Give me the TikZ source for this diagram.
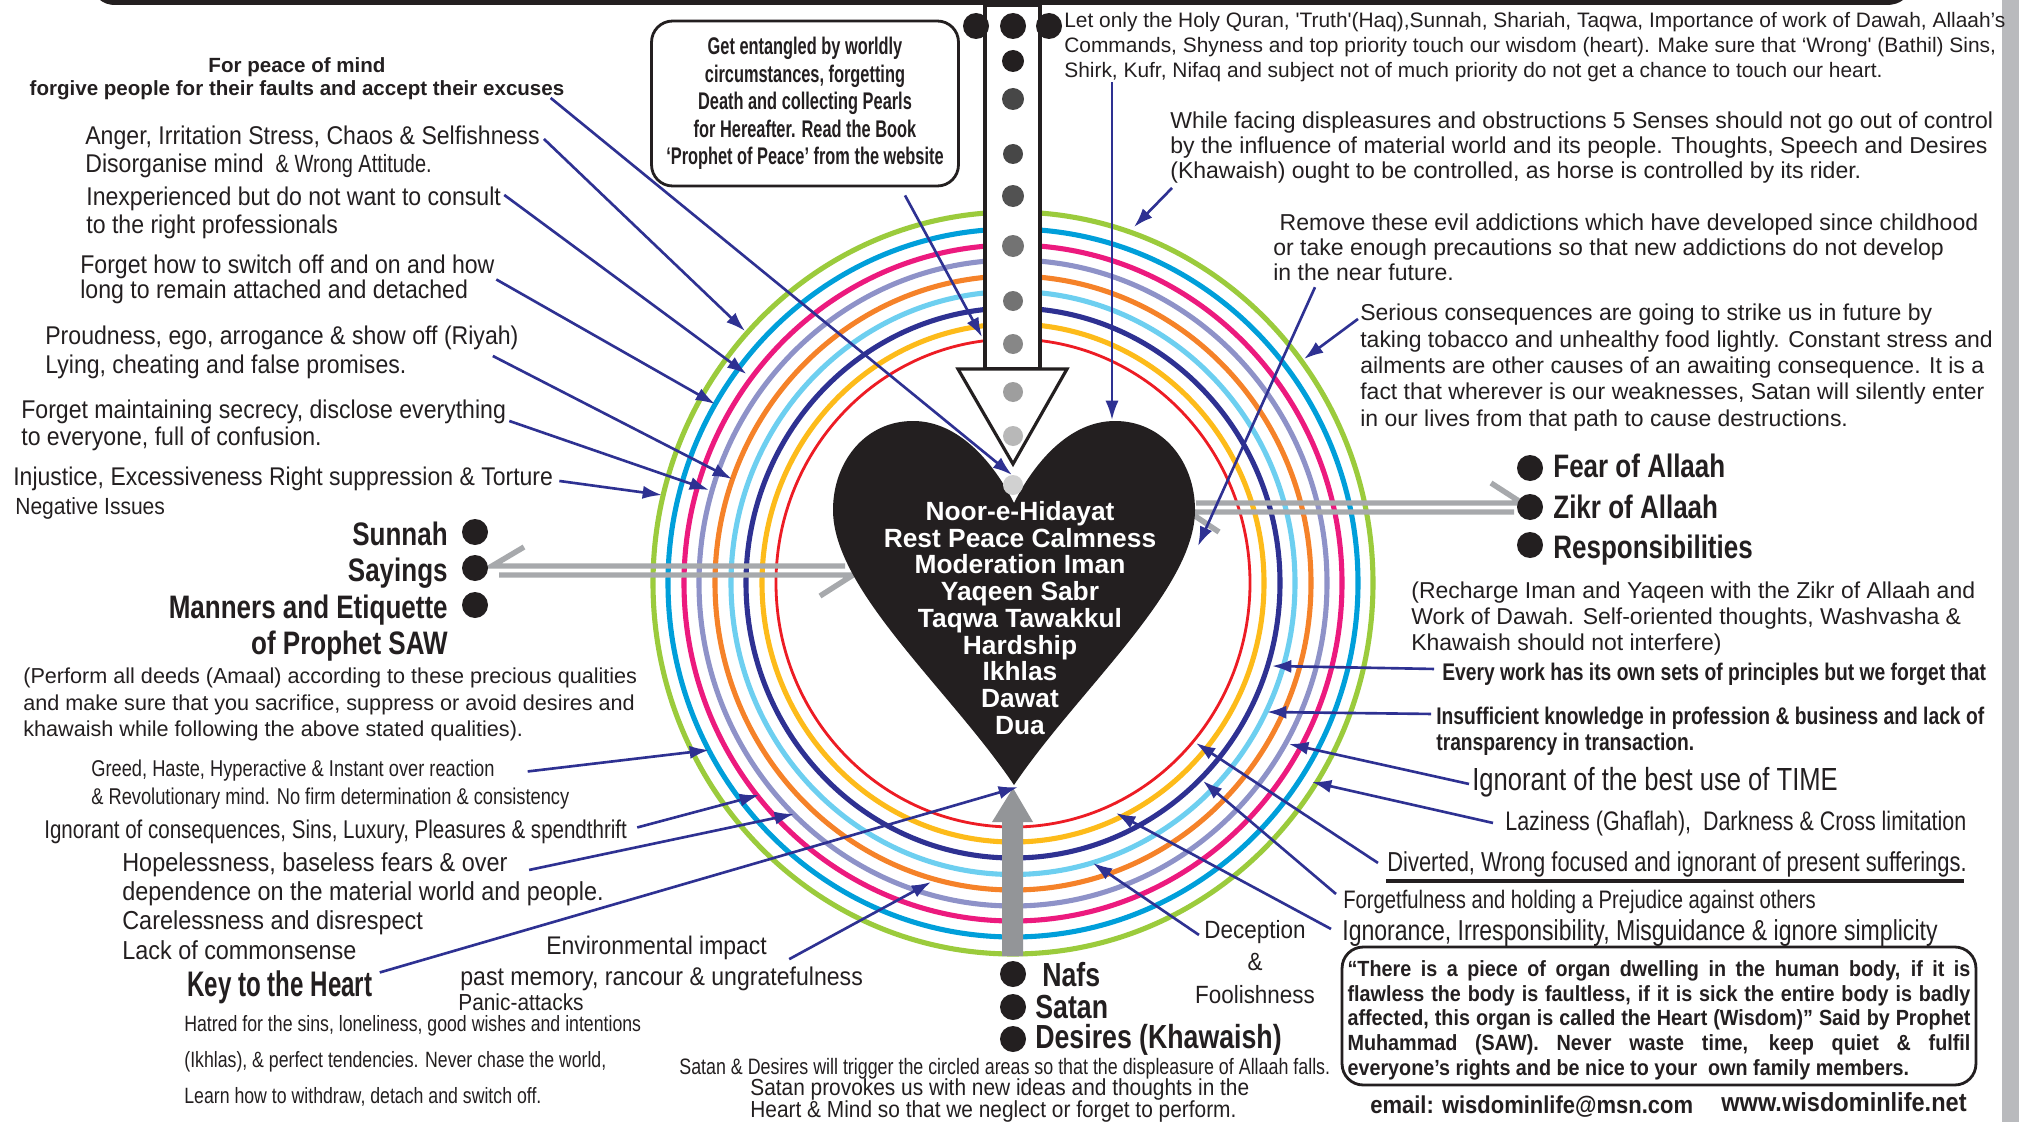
\documentclass[tikz,border=0pt]{standalone}
\usepackage{fontspec}
\setmainfont{Liberation Sans}
\newfontfamily\mdwfont[FakeStretch=0.9]{Liberation Sans}
\newfontfamily\nrwfont[FakeStretch=0.8]{Liberation Sans}
\newfontfamily\cndfont[FakeStretch=0.68]{Liberation Sans}
\usetikzlibrary{arrows.meta}
\definecolor{inkblack}{HTML}{231F20}
\definecolor{ringgreen}{HTML}{9BCB3C}
\definecolor{ringblue}{HTML}{009FDA}
\definecolor{ringpink}{HTML}{EC1A7E}
\definecolor{ringlav}{HTML}{8E92C8}
\definecolor{ringorange}{HTML}{F58229}
\definecolor{ringsky}{HTML}{6DCFF0}
\definecolor{ringnavy}{HTML}{2E3192}
\definecolor{ringyellow}{HTML}{FDBB1A}
\definecolor{ringred}{HTML}{ED1C24}
\definecolor{railgray}{HTML}{A7A9AC}
\definecolor{upgray}{HTML}{939598}
\tikzset{
lab/.style={anchor=west,align=left,inner sep=0pt,text=inkblack,yshift=-1.4pt},
txt/.style 2 args={lab,font=\fontsize{#1}{#2}\selectfont},
mdw/.style 2 args={lab,font=\mdwfont\fontsize{#1}{#2}\selectfont},
nrw/.style 2 args={lab,font=\nrwfont\fontsize{#1}{#2}\selectfont},
bld/.style 2 args={lab,font=\bfseries\fontsize{#1}{#2}\selectfont},
mbd/.style 2 args={lab,font=\mdwfont\bfseries\fontsize{#1}{#2}\selectfont},
nbd/.style 2 args={lab,font=\nrwfont\bfseries\fontsize{#1}{#2}\selectfont},
cbd/.style 2 args={lab,font=\cndfont\bfseries\fontsize{#1}{#2}\selectfont},
ring/.style={line width=2.9pt},
arr/.style={->,>={Latex[length=11pt,width=7.5pt]},line width=1.5pt,color=ringnavy},
rail/.style={line width=3.1pt,color=railgray,line join=miter},
}
\newcommand{\qline}[1]{\makebox[12.46cm][s]{#1}}
\begin{document}
\begin{tikzpicture}[x=0.02cm,y=-0.02cm]
\useasboundingbox (0,0) rectangle (2019,1122);
\fill[white] (0,0) rectangle (2019,1122);
\fill[railgray!80!white] (2002,0) rectangle (2019,1122);
\fill[inkblack] (100,0) .. controls (104,3) and (108,5) .. (116,5) -- (1886,5) .. controls (1894,5) and (1899,3) .. (1903,0) -- cycle;
% rings
\draw[ring,ringgreen] (1013,583) ellipse [x radius=360,y radius=371];
\draw[ring,ringblue] (1013,583) ellipse [x radius=345,y radius=354];
\draw[ring,ringpink] (1013,583) ellipse [x radius=329,y radius=338];
\draw[ring,ringlav] (1013,583) ellipse [x radius=314,y radius=323];
\draw[ring,ringorange] (1013,583) ellipse [x radius=298,y radius=307];
\draw[ring,ringsky] (1013,583) ellipse [x radius=282,y radius=291.5];
\draw[ring,ringnavy] (1013,583) ellipse [x radius=267,y radius=275];
\draw[ring,ringyellow] (1013,583) ellipse [x radius=251,y radius=259];
\draw[ringred,line width=1.6pt] (1013,583) ellipse [x radius=237,y radius=244];
% double rails
\coordinate (sunR) at (845,566);
\coordinate (sunL) at (492,566);
\coordinate (sunH) at (524,547);
\coordinate (manL) at (499,575);
\coordinate (manR) at (853,575);
\coordinate (manH) at (820,596);
\coordinate (zikL) at (1196,503);
\coordinate (zikR) at (1522,503);
\coordinate (zikH) at (1491,483);
\coordinate (fearR) at (1514,512);
\coordinate (fearL) at (1189,512);
\coordinate (fearH) at (1219,532);
\draw[rail] (sunR)--(sunL)--(sunH);
\draw[rail] (manL)--(manR)--(manH);
\draw[rail] (zikL)--(zikR)--(zikH);
\draw[rail] (fearR)--(fearL)--(fearH);
% heart and the arrow from above
\draw[inkblack,line width=1.8pt,fill=white] (985,5) rectangle (1040,369);
\draw[inkblack,line width=1.8pt,fill=white,line join=miter] (958,369)--(1067,369)--(1013,464)--cycle;
\fill[inkblack] (1014,503) .. controls (995,465) and (960,421) .. (913,421) .. controls (865,421) and (833,462) .. (833,510) .. controls (833,590) and (950,690) .. (1014,785) .. controls (1078,690) and (1195,590) .. (1195,510) .. controls (1195,462) and (1163,421) .. (1115,421) .. controls (1068,421) and (1033,465) .. (1014,503) -- cycle;
\fill[inkblack] (976,26) circle (13);
\fill[inkblack] (1013,26) circle (13);
\fill[inkblack] (1049,26) circle (13);
\fill[inkblack] (1013,61) circle (11);
\fill[black!72!white] (1013,99) circle (11);
\fill[black!72!white] (1013,154) circle (10);
\fill[black!68!white] (1013,196) circle (11);
\fill[black!55!white] (1013,246) circle (11);
\fill[black!55!white] (1013,301) circle (10);
\fill[black!47!white] (1013,344) circle (10);
\fill[black!38!white] (1013,392) circle (10);
\fill[black!28!white] (1013,436) circle (10);
\fill[black!18!white] (1013,485) circle (10);
\fill[upgray] (1002,956) -- (1002,822) -- (992,822) -- (1013,788) -- (1033,822) -- (1023,822) -- (1023,956) -- cycle;
\node[bld={15}{15.2},align=center,anchor=center,text=white] (heart) at (1020,615.5) {Noor-e-Hidayat\\Rest Peace Calmness\\Moderation Iman\\Yaqeen Sabr\\Taqwa Tawakkul\\Hardship\\Ikhlas\\Dawat\\Dua};
% left column
\node[bld={11.7}{13},align=center,anchor=center] (peace) at (297,76) {For peace of mind\\forgive people for their faults and accept their excuses};
\node[mdw={14.6}{15.7}] (anger) at (85,149.5) {Anger, Irritation Stress, Chaos \& Selfishness\\Disorganise mind {\nrwfont\fontsize{14.2}{14}\selectfont\ \& Wrong Attitude.}};
\node[mdw={14.6}{16}] (inexp) at (86,210) {Inexperienced but do not want to consult\\to the right professionals};
\node[mdw={14.6}{14.4}] (switch) at (80,277) {Forget how to switch off and on and how\\long to remain attached and detached};
\node[mdw={14.6}{16.6}] (proud) at (45,350) {Proudness, ego, arrogance \& show off (Riyah)\\Lying, cheating and false promises.};
\node[mdw={14.6}{15.2}] (secrecy) at (21,423) {Forget maintaining secrecy, disclose everything\\to everyone, full of confusion.};
\node[mdw={14.55}{15}] (injust) at (13,476) {Injustice, Excessiveness Right suppression \& Torture};
\node[mdw={13.3}{14}] (negative) at (15,506) {Negative Issues};
\node[nbd={18.5}{17},anchor=east] (sunnah) at (448,531.5) {Sunnah};
\node[nbd={18.5}{17},anchor=east] (sayings) at (448,571) {Sayings};
\node[nbd={18.5}{17},anchor=east] (manners) at (448,608) {Manners and Etiquette};
\node[nbd={18.5}{17},anchor=east] (ofsaw) at (448,644) {of Prophet SAW};
\fill[inkblack] (475,532) circle (13);
\fill[inkblack] (475,568) circle (13);
\fill[inkblack] (475,605) circle (13);
\node[txt={12.3}{15}] (perform) at (23,702) {(Perform all deeds (Amaal) according to these precious qualities\\and make sure that you sacrifice, suppress or avoid desires and\\khawaish while following the above stated qualities).};
\node[nrw={13}{15.7}] (greed) at (91,782) {Greed, Haste, Hyperactive \& Instant over reaction\\\& Revolutionary mind. No firm determination \& consistency};
\node[nrw={14.6}{15}] (conseq) at (44,829) {Ignorant of consequences, Sins, Luxury, Pleasures \& spendthrift};
\node[mdw={14.8}{16.7}] (hopeless) at (122,903.5) {Hopelessness, baseless fears \& over\\dependence on the material world and people.\\Carelessness and disrespect\\Lack of commonsense};
\node[cbd={20.2}{18}] (keyheart) at (187,985) {Key to the Heart};
\node[nrw={12.6}{20.5}] (hatred) at (184,1058) {Hatred for the sins, loneliness, good wishes and intentions\\(Ikhlas), \& perfect tendencies. Never chase the world,\\Learn how to withdraw, detach and switch off.};
\node[mdw={14.5}{15}] (environ) at (546,945) {Environmental impact};
\node[mdw={14.6}{15}] (memory) at (460,976) {past memory, rancour \& ungratefulness};
\node[mdw={13.2}{14}] (panic) at (458,999.5) {Panic-attacks};
% bottom
\fill[inkblack] (1013,974) circle (13);
\fill[inkblack] (1013,1007) circle (13);
\fill[inkblack] (1013,1039) circle (13);
\node[nbd={19}{17}] (nafs) at (1042,972.5) {Nafs};
\node[nbd={19}{17}] (satan) at (1035,1005) {Satan};
\node[nbd={19}{17}] (desires) at (1035,1037) {Desires (Khawaish)};
\node[mdw={14.2}{18.7},align=center,anchor=center] (decept) at (1255,959.5) {Deception\\\&\\Foolishness};
\node[nrw={12.7}{13}] (trigger) at (679,1066) {Satan \& Desires will trigger the circled areas so that the displeasure of Allaah falls.};
\node[mdw={13.2}{12.5}] (provoke) at (750,1098) {Satan provokes us with new ideas and thoughts in the\\Heart \& Mind so that we neglect or forget to perform.};
% box at the top
\node[draw=inkblack,line width=1.6pt,rounded corners=12pt,cbd={13.7}{15.6},align=center,anchor=center,minimum width=6.14cm,minimum height=3.3cm,yshift=1.4pt] (pearls) at (805,103.5) {Get entangled by worldly\\circumstances, forgetting\\Death and collecting Pearls\\for Hereafter. Read the Book\\‘Prophet of Peace’ from the website};
% right column
\node[txt={11.9}{14.2}] (quran) at (1064,44.5) {Let only the Holy Quran, \textquotesingle Truth\textquotesingle(Haq),Sunnah, Shariah, Taqwa, Importance of work of Dawah, Allaah’s\\Commands, Shyness and top priority  touch our wisdom (heart). Make sure  that ‘Wrong\textquotesingle\ (Bathil) Sins,\\Shirk, Kufr, Nifaq and subject not of much priority do not get  a chance to touch our heart.};
\node[txt={13.1}{14.2}] (senses) at (1170,145) {While facing displeasures and obstructions 5 Senses should not go out of control\\by the influence of material world and its people. Thoughts, Speech and Desires\\(Khawaish) ought to be controlled, as horse is controlled by its rider.};
\node[txt={13.1}{14.2}] (addict) at (1273,245) {\hspace{3.6pt}Remove these evil addictions which have developed since childhood\\or take enough precautions so that new addictions do not develop\\in the near future.};
\node[txt={13.07}{15}] (tobacco) at (1360,365) {Serious consequences are going to strike us in future by\\taking tobacco and unhealthy food lightly. Constant stress and\\ailments are other causes of an awaiting consequence. It is a\\fact that wherever is our weaknesses, Satan will silently enter\\in our lives from that path to cause destructions.};
\fill[inkblack] (1530,468) circle (13);
\fill[inkblack] (1530,507) circle (13);
\fill[inkblack] (1530,545) circle (13);
\node[nbd={18.5}{16}] (fear) at (1553,463.5) {Fear of Allaah};
\node[nbd={18.5}{16}] (zikr) at (1553,504.5) {Zikr of Allaah};
\node[nbd={18.5}{16}] (resp) at (1553,548) {Responsibilities};
\node[txt={13.07}{15}] (recharge) at (1411,616) {(Recharge Iman and Yaqeen with the Zikr of Allaah and\\Work of Dawah. Self-oriented thoughts, Washvasha \&\\Khawaish should not interfere)};
\node[nbd={13.7}{13}] (everywork) at (1442,672) {Every work has its own sets of principles but we forget that};
\node[nbd={13.7}{14.5}] (insuff) at (1436,729) {Insufficient knowledge in profession \& business and lack of\\transparency in transaction.};
\node[nrw={18.2}{17}] (besttime) at (1472,780) {Ignorant of the best use of TIME};
\node[nrw={15.25}{15}] (lazy) at (1505,821) {Laziness (Ghaflah),\ \ Darkness \& Cross limitation};
\node[nrw={15.6}{15}] (divert) at (1387,862) {Diverted, Wrong focused and ignorant of present sufferings.};
\coordinate (ruleL) at (1386,881);
\coordinate (ruleR) at (1964,881);
\draw[inkblack,line width=1.8pt] (ruleL)--(ruleR);
\node[nrw={14.4}{15}] (prejud) at (1343,899) {Forgetfulness and holding a Prejudice against others};
\node[nrw={16.4}{15}] (misguid) at (1342,930.5) {Ignorance, Irresponsibility, Misguidance \& ignore simplicity};
\node[draw=inkblack,line width=1.6pt,rounded corners=12pt,mbd={12.5}{14.2},anchor=center,minimum width=12.68cm,minimum height=2.76cm,inner sep=0pt,yshift=1.4pt] (quote) at (1659,1016) {\rule{0pt}{14pt}\qline{“There is a piece of organ dwelling in the human body, if it is}\\\qline{flawless the body is faultless, if it is sick the entire body is badly}\\\qline{affected, this organ is called the Heart (Wisdom)” Said by Prophet}\\\qline{Muhammad (SAW). Never waste time, keep quiet \& fulfil}\\everyone’s rights and be nice to your\ \ own family members.};
\node[mbd={13.9}{14}] (email) at (1370,1104) {email: wisdominlife@msn.com};
\node[mbd={14.9}{14}] (web) at (1721,1099.5) {www.wisdominlife.net};
% tips of the arrows
\coordinate (peaceT) at (1012,475);
\coordinate (angerT) at (745,331);
\coordinate (inexpT) at (746.5,374);
\coordinate (switchT) at (715,404);
\coordinate (proudT) at (732,479);
\coordinate (secrecyT) at (709,490);
\coordinate (injustT) at (662,495);
\coordinate (pearlsT) at (982,337);
\coordinate (quranT) at (1112,420);
\coordinate (sensesT) at (1134,227);
\coordinate (addictT) at (1198,546);
\coordinate (tobaccoT) at (1304,359);
\coordinate (everyworkT) at (1272,666);
\coordinate (insuffT) at (1267,712);
\coordinate (besttimeT) at (1289,744);
\coordinate (lazyT) at (1312,782);
\coordinate (divertT) at (1196,743);
\coordinate (prejudT) at (1203,781);
\coordinate (misguidT) at (1116,813);
\coordinate (deceptT) at (1093,863);
\coordinate (memoryT) at (931,882);
\coordinate (keyheartT) at (1018,787);
\coordinate (hopelessT) at (794,814);
\coordinate (conseqT) at (759,795);
\coordinate (greedT) at (709,750);
\draw[arr] ([shift={(-14,19.5)}]peace.east)--(peaceT);
\draw[arr] ([shift={(4,-13)}]anger.east)--(angerT);
\draw[arr] ([shift={(3,-17.5)}]inexp.east)--(inexpT);
\draw[arr] ([shift={(1.5,0)}]switch.east)--(switchT);
\draw[arr] ([shift={(-26,3.5)}]proud.east)--(proudT);
\draw[arr] ([shift={(3,-4.5)}]secrecy.east)--(secrecyT);
\draw[arr] ([shift={(6,2.5)}]injust.east)--(injustT);
\draw[arr] ([shift={(100,8)}]pearls.south)--(pearlsT);
\draw[arr] ([shift={(48,0)}]quran.south west)--(quranT);
\draw[arr] ([shift={(2,4.5)}]senses.south west)--(sensesT);
\draw[arr] ([shift={(42,6)}]addict.south west)--(addictT);
\draw[arr] ([shift={(-2,-48.5)}]tobacco.west)--(tobaccoT);
\draw[arr] ([shift={(-8,-5.5)}]everywork.west)--(everyworkT);
\draw[arr] ([shift={(-5,-17.5)}]insuff.west)--(insuffT);
\draw[arr] ([shift={(-3,1.5)}]besttime.west)--(besttimeT);
\draw[arr] ([shift={(-12,-0.5)}]lazy.west)--(lazyT);
\draw[arr] ([shift={(-9,-1.5)}]divert.west)--(divertT);
\draw[arr] ([shift={(-7,-7.5)}]prejud.west)--(prejudT);
\draw[arr] ([shift={(-11,-4)}]misguid.west)--(misguidT);
\draw[arr] ([shift={(-56,-27)}]decept.center)--(deceptT);
\draw[arr] ([shift={(-74,-7)}]memory.north east)--(memoryT);
\draw[arr] ([shift={(7,-15)}]keyheart.east)--(keyheartT);
\draw[arr] ([shift={(-75,-36)}]hopeless.east)--(hopelessT);
\draw[arr] ([shift={(10,-4)}]conseq.east)--(conseqT);
\draw[arr] ([shift={(-42,-13)}]greed.east)--(greedT);
\end{tikzpicture}
\end{document}
